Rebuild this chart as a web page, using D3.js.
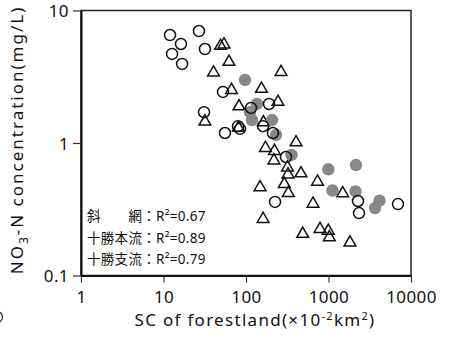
<!DOCTYPE html>
<html>
<head>
<meta charset="utf-8">
<script src="https://cdn.jsdelivr.net/npm/d3@7"></script>
<style>
  body { margin: 0; background: #fff; }
  svg { display: block; font-family: "Noto Sans", "Noto Sans CJK JP", sans-serif; }
</style>
</head>
<body>
<svg id="chart" width="453" height="341"></svg>
<script>
// values: [SC of forestland (x10^-2 km2), NO3-N (mg/L)]
const circlePts = [
  [12.0, 6.53], [16.3, 5.59], [26.9, 7.0], [12.7, 4.70], [16.8, 3.95], [31.8, 5.12],
  [52.6, 2.43], [31.0, 1.71], [55.6, 1.19], [80.0, 1.34], [84.6, 1.28], [115, 1.84],
  [190, 1.97], [161, 1.34], [212, 1.19], [305, 0.784], [225, 0.359], [2278, 0.365],
  [2343, 0.296], [6955, 0.346]
];
const trianglePts = [
  [49.1, 5.40], [54.1, 5.54], [62.2, 4.09], [40.4, 3.40], [266, 3.43], [66.7, 2.51],
  [154, 2.56], [82.3, 1.89], [244, 2.04], [31.8, 1.45], [163, 1.43], [81.1, 1.30],
  [404, 1.01], [172, 0.917], [221, 0.870], [218, 0.738], [318, 0.653], [323, 0.578],
  [464, 0.589], [736, 0.51], [148, 0.463], [291, 0.489], [326, 0.419], [1486, 0.417],
  [649, 0.348], [161, 0.267], [487, 0.206], [789, 0.224], [995, 0.217], [1023, 0.194],
  [1822, 0.177]
];
const grayPts = [
  [97.2, 2.99], [136, 1.97], [112, 1.71], [118, 1.49], [207, 1.49], [231, 1.15],
  [356, 0.812], [995, 0.633], [2154, 0.682], [1118, 0.438], [2125, 0.431],
  [3661, 0.323], [4150, 0.367]
];
const xTicks = [1, 10, 100, 1000, 10000];
const yTicks = [0.1, 1, 10];
const legendLines = [
  ["斜　　網", "0.67"],
  ["十勝本流", "0.89"],
  ["十勝支流", "0.79"]
];

const svg = d3.select('#chart');
const m = { left: 81, right: 411, top: 10.5, bottom: 275.5 };

const x = d3.scaleLog().domain([1, 10000]).range([m.left, m.right]);
const y = d3.scaleLog().domain([0.1, 10]).range([m.bottom, m.top]);

// frame
svg.append('rect')
  .attr('x', m.left).attr('y', m.top)
  .attr('width', m.right - m.left).attr('height', m.bottom - m.top)
  .attr('fill', 'none')
  .attr('stroke', '#222')
  .attr('stroke-width', 1.5);

const xAxis = svg.append('g')
  .attr('transform', `translate(0,${m.bottom})`)
  .call(d3.axisBottom(x).tickValues(xTicks).tickFormat(d3.format('d')).tickSize(7).tickSizeOuter(0));
const yAxis = svg.append('g')
  .attr('transform', `translate(${m.left},0)`)
  .call(d3.axisLeft(y).tickValues(yTicks).tickFormat(d => String(d)).tickSize(8).tickSizeOuter(0));

[xAxis, yAxis].forEach(g => {
  g.select('.domain').attr('stroke', '#111').attr('stroke-width', 2);
  g.selectAll('.tick line').attr('stroke', '#333').attr('stroke-width', 1.2);
  g.selectAll('.tick text')
    .attr('fill', '#111')
    .style('font-size', '17px')
    .style('letter-spacing', '0.4px')
    .style('font-family', '"Noto Sans", sans-serif');
});
xAxis.selectAll('.tick text').attr('dy', null).attr('y', 27);
yAxis.selectAll('.tick text').attr('x', -12).attr('dy', '0.36em');

// axis titles
const xt = svg.append('text')
  .attr('x', (m.left + m.right) / 2 + 9)
  .attr('y', 326)
  .attr('text-anchor', 'middle')
  .attr('fill', '#111')
  .style('font-size', '17px')
  .style('letter-spacing', '1.3px');
xt.append('tspan').text('SC of forestland(×10');
xt.append('tspan').attr('dy', -6).style('font-size', '11px').text('-2');
xt.append('tspan').attr('dy', 6).text('km');
xt.append('tspan').attr('dy', -6).style('font-size', '11px').text('2');
xt.append('tspan').attr('dy', 6).text(')');

const yt = svg.append('text')
  .attr('transform', `translate(23,${(m.top + m.bottom) / 2 - 3}) rotate(-90)`)
  .attr('text-anchor', 'middle')
  .attr('fill', '#111')
  .style('font-size', '17px')
  .style('letter-spacing', '2px');
yt.append('tspan').text('NO');
yt.append('tspan').attr('dy', 5).style('font-size', '12px').text('3');
yt.append('tspan').attr('dy', -5).text('-N concentration(mg/L)');

// markers
svg.append('g').selectAll('path')
  .data(trianglePts)
  .join('path')
  .attr('transform', d => `translate(${x(d[0])},${y(d[1])})`)
  .attr('d', d3.symbol(d3.symbolTriangle, 60))
  .attr('fill', 'none')
  .attr('stroke', '#111')
  .attr('stroke-width', 1.5);

svg.append('g').selectAll('circle')
  .data(grayPts)
  .join('circle')
  .attr('cx', d => x(d[0]))
  .attr('cy', d => y(d[1]))
  .attr('r', 6.2)
  .attr('fill', '#888');

svg.append('g').selectAll('circle')
  .data(circlePts)
  .join('circle')
  .attr('cx', d => x(d[0]))
  .attr('cy', d => y(d[1]))
  .attr('r', 5.5)
  .attr('fill', 'none')
  .attr('stroke', '#111')
  .attr('stroke-width', 1.5);

// legend text
const leg = svg.append('g')
  .style('font-size', '13.5px')
  .style('letter-spacing', '0.3px')
  .attr('fill', '#111');
legendLines.forEach((l, i) => {
  leg.append('text')
    .attr('x', 87)
    .attr('y', 221 + i * 21.5)
    .text(`${l[0]}：R²=${l[1]}`);
});

// stray symbol cut off at left edge
svg.append('circle')
  .attr('cx', -3).attr('cy', 317).attr('r', 5.5)
  .attr('fill', 'none').attr('stroke', '#111').attr('stroke-width', 1.2);
</script>
</body>
</html>
